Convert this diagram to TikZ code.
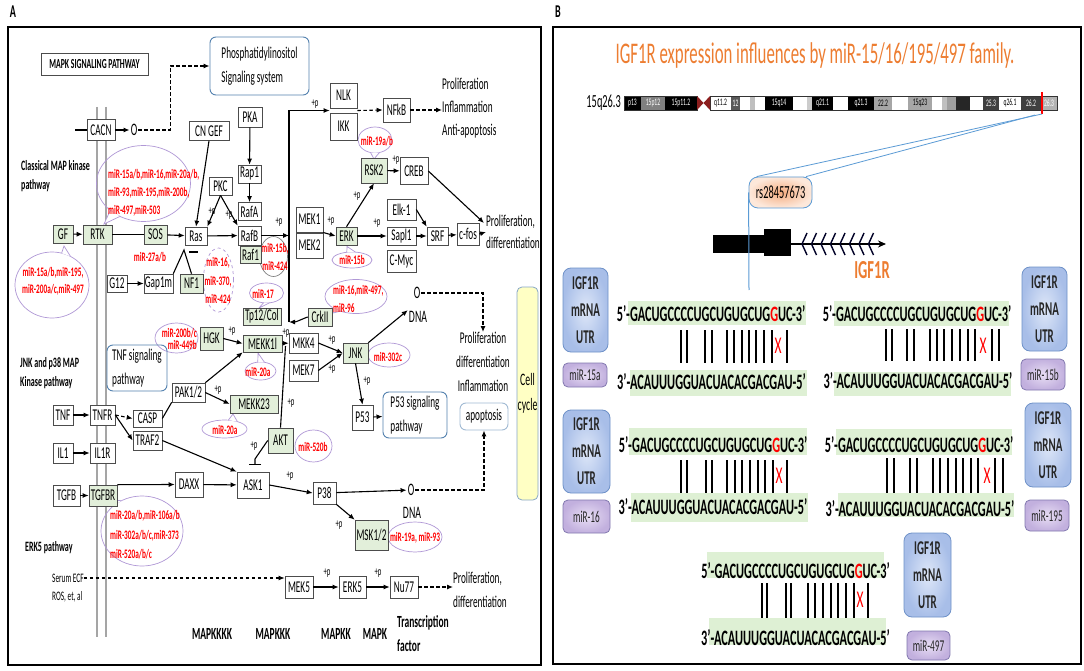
\documentclass[tikz,border=0pt]{standalone}
\usepackage{fontspec}
\setmainfont[FakeStretch=0.56]{Carlito}
\usetikzlibrary{arrows.meta,calc}

\definecolor{kgreen}{RGB}{226,239,218}
\definecolor{lilac}{RGB}{176,152,214}
\definecolor{sigblue}{RGB}{84,130,175}
\definecolor{korange}{RGB}{237,125,49}
\definecolor{hlgreen}{RGB}{222,240,212}
\definecolor{mred}{RGB}{255,0,0}
\definecolor{memgrey}{RGB}{165,165,165}
\definecolor{utrin}{RGB}{222,231,248}
\definecolor{utrout}{RGB}{168,190,232}
\definecolor{utrline}{RGB}{110,145,200}
\definecolor{mirin}{RGB}{232,222,244}
\definecolor{mirout}{RGB}{194,176,222}
\definecolor{mirline}{RGB}{130,120,175}
\definecolor{snpin}{RGB}{244,172,128}
\definecolor{snpout}{RGB}{253,232,218}
\definecolor{cellyel}{RGB}{255,255,196}
\definecolor{centro}{RGB}{140,30,30}
\definecolor{lineblue}{RGB}{91,155,213}

\newcommand\topseq{5’-GACUGCCCCUGCUGUGCUG{\color{mred}G}UC-3’}
\newcommand\botseq{3’-ACAUUUGGUACUACACGACGAU-5’}

\tikzset{
  kbox/.style={draw=black!70, fill=white, line width=0.6pt, inner sep=0pt, font=\fontsize{16.5}{18}\selectfont},
  gbox/.style={kbox, fill=kgreen},
  wh/.style 2 args={minimum width=#1pt, minimum height=#2pt},
  sigbox/.style={draw=sigblue, rounded corners=6pt, line width=0.9pt, inner sep=0pt, align=left, font=\fontsize{16.5}{24}\selectfont},
  mirtxt/.style={text=mred, font=\bfseries\fontsize{13}{18}\selectfont, inner sep=0pt, align=center},
  ring/.style={draw=lilac, line width=0.7pt},
  tail/.style={ring, fill=white},
  flow/.style={-{Latex[length=6pt,width=5pt]}, line width=1.1pt},
  dflow/.style={flow, dash pattern=on 3.5pt off 2.5pt},
  link/.style={line width=1.1pt},
  plus/.style={font=\fontsize{12}{12}\selectfont, inner sep=0pt},
  lab/.style={font=\bfseries\fontsize{14.3}{19}\selectfont, inner sep=0pt, align=left, anchor=west},
  bl/.style={font=\bfseries\fontsize{17}{24}\selectfont, inner sep=0pt, align=left},
  outtxt/.style={font=\fontsize{16.5}{23}\selectfont, inner sep=0pt, align=left},
  otxt/.style={font=\fontsize{17.5}{17.5}\selectfont, inner sep=1pt},
  band/.style={font=\fontsize{10}{10}\selectfont, inner sep=0pt},
  seq/.style={font=\bfseries\fontsize{22}{22}\selectfont, inner sep=0pt},
  bp/.style={line width=1.2pt},
  mis/.style={text=mred, font=\fontsize{24}{24}\selectfont, inner sep=0pt},
  utr/.style={draw=utrline, rounded corners=8pt, inner color=utrin, outer color=utrout, line width=0.8pt, inner sep=0pt, align=center, font=\bfseries\fontsize{19.5}{27}\selectfont, text=black!85},
  mirbox/.style={draw=mirline, rounded corners=5pt, inner color=mirin, outer color=mirout, line width=0.8pt, inner sep=0pt, font=\fontsize{16.5}{16.5}\selectfont, text=black!85},
}

\begin{document}
\begin{tikzpicture}[x=1pt,y=-1pt]
\useasboundingbox (0,0) rectangle (1084,671);
\fill[white] (0,0) rectangle (1084,671);

% ---------------- panel A ----------------
\node[font=\bfseries\fontsize{18}{18}\selectfont, inner sep=0pt] (pa) at (13,12) {A};
\draw[memgrey, line width=1.5pt] (97,107) -- (97,637) (106,107) -- (106,637);

\node[kbox, wh={107}{22}, font=\bfseries\fontsize{13.8}{14}\selectfont] (mapk) at (94.5,64) {MAPK SIGNALING PATHWAY};
\node[sigbox, wh={99}{58}] (phos) at (259.5,66) {Phosphatidylinositol\\Signaling system};
\node[lab] (cls) at (21,176) {Classical MAP kinase\\pathway};
\node[lab] (jnkl) at (20,373) {JNK and p38 MAP\\Kinase pathway};
\node[lab] (erk5l) at (25,548) {ERK5 pathway};

% miRNA rings
\draw[ring] (143.5,183.5) ellipse (47pt and 38pt);
\draw[ring] (52,285) ellipse (37pt and 33pt);
\draw[ring, dashed] (218.5,280) ellipse (15pt and 32pt);
\draw[draw=gray, line width=0.7pt] (273.5,256.5) ellipse (14pt and 20pt);
\draw[ring] (266.5,293) ellipse (17pt and 10pt);
\draw[ring] (375,140) ellipse (17pt and 13pt);
\draw[ring] (352,260) ellipse (20pt and 8pt);
\draw[ring] (356,296.5) ellipse (31pt and 17pt);
\draw[ring] (176.5,338) ellipse (21.5pt and 15pt);
\draw[ring] (260.5,371) ellipse (15.5pt and 9pt);
\draw[ring] (224.5,429) ellipse (22.5pt and 9pt);
\draw[ring] (389,355) ellipse (21pt and 12pt);
\draw[ring] (313.5,446) ellipse (18.5pt and 16pt);
\draw[ring] (142,531) ellipse (41pt and 35pt);
\draw[ring] (415,537) ellipse (27pt and 15pt);
% callout tails
\filldraw[tail] (120,216.4) -- (104,224) -- (110.3,210.4);
\filldraw[tail] (61.6,253.1) -- (64,246) -- (70.5,256.4);
\filldraw[tail] (379.4,152.6) -- (374,159) -- (370.6,152.6);
\filldraw[tail] (346.8,252.3) -- (347,246.5) -- (355.5,252.1);
\filldraw[tail] (263.5,302.8) -- (259,308) -- (269.5,302.8);
\filldraw[tail] (332.3,307.4) -- (333,313) -- (340.5,311.2);
\filldraw[tail] (257.8,362.1) -- (258,353) -- (264.5,362.3);
\filldraw[tail] (228.4,420.1) -- (233,414) -- (237.4,421.6);
\filldraw[tail] (121.5,500.7) -- (112,500) -- (113,506.3);

\node[mirtxt, anchor=west, align=left] (m1) at (108,193) {miR-15a/b,miR-16,miR-20a/b,\\miR-93,miR-195,miR-200b,\\miR-497,miR-503};
\node[mirtxt, font=\bfseries\fontsize{13}{17}\selectfont] (m2) at (53,281) {miR-15a/b,miR-195,\\miR-200a/c,miR-497};
\node[mirtxt, font=\bfseries\fontsize{13}{18.5}\selectfont] (m3) at (218,280.5) {miR-16,\\miR-370,\\miR-424};
\node[mirtxt] (m4) at (275,257) {miR-15b,\\miR-424};
\node[mirtxt] (m5) at (263,294) {miR-17};
\node[mirtxt] (m6) at (377,141) {miR-19a/b};
\node[mirtxt] (m7) at (352,260) {miR-15b};
\node[mirtxt, anchor=west, align=left] (m8) at (333,299) {miR-16,miR-497,\\miR-96};
\node[mirtxt, anchor=east, align=right, font=\bfseries\fontsize{13}{12}\selectfont] (m9) at (197,339) {miR-200b/c\\miR-449b};
\node[mirtxt] (m10) at (258,372) {miR-20a};
\node[mirtxt] (m11) at (225,430) {miR-20a};
\node[mirtxt] (m12) at (388,357) {miR-302c};
\node[mirtxt] (m13) at (313,447) {miR-520b};
\node[mirtxt, anchor=west, align=left, font=\bfseries\fontsize{13}{19.5}\selectfont] (m14) at (110,535) {miR-20a/b,miR-106a/b\\miR-302a/b/c,miR-373\\miR-520a/b/c};
\node[mirtxt] (m15) at (415,538) {miR-19a, miR-93};
\node[mirtxt] (m16) at (150,257) {miR-27a/b};

% kinase boxes
\node[kbox, wh={28}{21}] (cacn) at (101,130) {CACN};
\node[kbox, wh={40}{19}] (cngef) at (209,131) {CN GEF};
\node[kbox, wh={24}{20}] (pka) at (250,117) {PKA};
\node[kbox, wh={23}{18}] (rap1) at (249.5,174) {Rap1};
\node[kbox, wh={23}{18}] (pkc) at (220.5,186) {PKC};
\node[kbox, wh={23}{18}] (rafa) at (249.5,211.5) {RafA};
\node[kbox, wh={23}{19}] (rafb) at (249.5,235.5) {RafB};
\node[gbox, wh={21}{17}] (raf1) at (250.5,254.5) {Raf1};
\node[gbox, wh={20}{18}] (gf) at (63,234) {GF};
\node[gbox, wh={29}{19}] (rtk) at (97.5,234.5) {RTK};
\node[gbox, wh={23}{19}] (sos) at (155.5,234.5) {SOS};
\node[kbox, wh={22}{18}] (ras) at (196,236) {Ras};
\node[kbox, wh={20}{17}] (g12) at (117,283.5) {G12};
\node[kbox, wh={29}{19}] (gap1m) at (158.5,283.5) {Gap1m};
\node[gbox, wh={23}{19}] (nf1) at (191.5,283.5) {NF1};
\node[kbox, wh={27}{25}] (nlk) at (343.5,95.5) {NLK};
\node[kbox, wh={27}{27}] (ikk) at (343.5,126.5) {IKK};
\node[kbox, wh={27}{24}] (nfkb) at (396.5,110) {NFkB};
\node[gbox, wh={26}{25}] (rsk2) at (374,170.5) {RSK2};
\node[kbox, wh={28}{27}] (creb) at (414,171) {CREB};
\node[kbox, wh={27}{25}] (mek1) at (309.5,219.5) {MEK1};
\node[kbox, wh={27}{25}] (mek2) at (309.5,245.5) {MEK2};
\node[gbox, wh={21}{18}] (erk) at (346.5,236) {ERK};
\node[kbox, wh={29}{21}] (elk1) at (401.5,209.5) {Elk-1};
\node[kbox, wh={29}{18}] (sapl1) at (401.5,236) {Sapl1};
\node[kbox, wh={29}{22}] (cmyc) at (401.5,261) {C-Myc};
\node[kbox, wh={21}{18}] (srf) at (437.5,236) {SRF};
\node[kbox, wh={22}{22}] (cfos) at (468,234) {c-fos};
\node[gbox, wh={38}{17}] (tp12) at (262,316.5) {Tp12/Col};
\node[gbox, wh={39}{17}] (mekk1) at (262.5,343.5) {MEKK1l};
\node[gbox, wh={23}{23}] (hgk) at (211.5,338.5) {HGK};
\node[gbox, wh={24}{18}] (crk) at (320,317) {CrkII};
\node[kbox, wh={29}{20}] (mkk4) at (303.5,343) {MKK4};
\node[kbox, wh={29}{21}] (mek7) at (303.5,370.5) {MEK7};
\node[gbox, wh={25}{20}] (jnk) at (355.5,353) {JNK};
\node[kbox, wh={21}{25}] (p53) at (362.5,417.5) {P53};
\node[kbox, wh={33}{19}] (pak) at (188.5,392.5) {PAK1/2};
\node[gbox, wh={48}{18}] (mekk23) at (254,404) {MEKK23};
\node[gbox, wh={25}{25}] (akt) at (280.5,440.5) {AKT};
\node[kbox, wh={20}{20}] (tnf) at (63,415) {TNF};
\node[kbox, wh={25}{20}] (tnfr) at (102.5,415) {TNFR};
\node[kbox, wh={29}{17}] (casp) at (147.5,418.5) {CASP};
\node[kbox, wh={29}{19}] (traf2) at (147.5,440.5) {TRAF2};
\node[kbox, wh={20}{20}] (il1) at (63,453) {IL1};
\node[kbox, wh={25}{20}] (il1r) at (102.5,453) {IL1R};
\node[kbox, wh={27}{21}] (tgfb) at (66.5,495.5) {TGFB};
\node[gbox, wh={28}{21}] (tgfbr) at (103,495.5) {TGFBR};
\node[kbox, wh={28}{25}] (daxx) at (189,484.5) {DAXX};
\node[kbox, wh={32}{26}] (ask1) at (253,485) {ASK1};
\node[kbox, wh={23}{22}] (p38) at (324.5,493) {P38};
\node[gbox, wh={33}{30}] (msk) at (371.5,535) {MSK1/2};
\node[kbox, wh={28}{22}] (mek5) at (299,587) {MEK5};
\node[kbox, wh={27}{22}] (erk5) at (352.5,587) {ERK5};
\node[kbox, wh={28}{22}] (nu77) at (404,587) {Nu77};

\node[sigbox, wh={64}{46}] (p53sig) at (415,415) {P53 signaling\\pathway};
\node[sigbox, wh={60}{46}] (tnfsig) at (137,368) {TNF signaling\\pathway};
\node[sigbox, draw=sigblue!55, wh={48}{27}, align=center] (apop) at (484,416.5) {apoptosis};
\node[draw=sigblue!70, fill=cellyel, rounded corners=5pt, line width=0.8pt, wh={21}{213}, inner sep=0pt, align=center, font=\fontsize{17.5}{25}\selectfont] (cell) at (527.5,393.5) {Cell\\cycle};

\node[otxt] (o1) at (134,130) {O};
\node[otxt] (o2) at (417,293) {O};
\node[otxt] (dna1) at (418,317) {DNA};
\node[otxt] (o3) at (411,490) {O};
\node[otxt] (dna2) at (412,513) {DNA};

\node[outtxt, anchor=west] (out1) at (442,108) {Proliferation\\Inflammation\\Anti-apoptosis};
\node[outtxt, anchor=west, font=\fontsize{16.5}{22}\selectfont] (out2) at (486,232) {Proliferation,\\differentiation};
\node[outtxt, align=center, font=\fontsize{16.5}{24}\selectfont] (out3) at (483,362) {Proliferation\\differentiation\\Inflammation};
\node[outtxt, anchor=west, font=\fontsize{16.5}{24}\selectfont] (out4) at (453,590) {Proliferation,\\differentiation};

\node[font=\fontsize{13}{13}\selectfont, anchor=west, inner sep=0pt] (serum) at (52,578) {Serum ECF};
\node[font=\fontsize{13}{13}\selectfont, anchor=west, inner sep=0pt] (ros) at (52,597) {ROS, et, al};

\node[bl] (k4) at (212,634) {MAPKKKK};
\node[bl] (k3) at (273,634) {MAPKKK};
\node[bl] (k2) at (336,634) {MAPKK};
\node[bl] (k1) at (375,634) {MAPK};
\node[bl, anchor=west] (tf) at (397,634) {Transcription\\factor};

% connectors
\coordinate (cacnin) at (75,130);
\draw[link] (cacnin) -- (cacn);
\draw[flow] (cacn) -- (o1);
\draw[dflow] (o1.east) -- ++(32,0) |- (phos.west);
\draw[flow] (pka) -- (rap1);
\draw[flow] (rap1) -- (rafa);
\draw[flow] (cngef.south) -- (ras.north);
\draw[flow] (pkc.south) -- (ras.north east);
\draw[flow] (pkc.south) -- (rafb.north west);
\node[plus] (pp1) at (212,212) {+p};
\node[plus] (pp2) at (229,215) {+p};
\draw[flow] (gf) -- (rtk);
\draw[link] (rtk) -- (sos);
\draw[flow] (sos) -- (ras);
\draw[flow] (ras) -- (rafb);
\draw[flow] (g12) -- (gap1m);
\coordinate (rasinh) at (184,250);
\draw[link] (gap1m.north east) -- (rasinh) -- (nf1.north);
\draw[link] (189,252) -- (198,252);

\coordinate (vtop) at (289,112);
\coordinate (vbot) at (289,322);
\coordinate (kin) at ($(nlk.south west)!0.5!(ikk.north west)$);
\coordinate (kout) at ($(nlk.south east)!0.5!(ikk.north east)$);
\draw[flow] (rafb) -- (rafb -| vtop);
\node[plus] (pp3) at (279,222) {+p};
\draw[flow] (vbot) |- (kin);
\node[plus] (pp4) at (315,104) {+p};
\draw[flow] (crk.west) to[out=200,in=0] (vbot);
\draw[dflow] (kout) -- (nfkb.west);
\draw[dflow] (nfkb.east) -- (out1.west |- nfkb.east);
\draw[flow] (rsk2) -- (creb);
\node[plus] (pp5) at (396,160) {+p};
\coordinate (out2in) at (484,223);
\draw[flow] (creb.east) -- (out2in);
\draw[flow] ($(mek1.south east)!0.5!(mek2.north east)$) -- (erk.west);
\node[plus] (pp6) at (331,221) {+p};
\draw[flow] (erk.north) -- (rsk2.south);
\node[plus] (pp7) at (357,196) {+p};
\draw[flow] (erk) -- (sapl1);
\node[plus] (pp8) at (377,223) {+p};
\draw[flow] (elk1.east) -- (srf.north west);
\draw[flow] (sapl1) -- (srf);
\draw[flow] (srf) -- (cfos);
\draw[dflow] (cfos.east) -- (out2.west);

\draw[flow] (hgk.east) -- (mekk1.west);
\node[plus] (pp9) at (232,331) {+p};
\draw[flow] (mekk1) -- (mkk4);
\node[plus] (pp10) at (286,333) {+p};
\draw[flow] (mkk4.east) -- (jnk.west);
\node[plus] (pp11) at (332,340) {+p};
\draw[flow] (mek7.east) -- (jnk.west);
\node[plus] (pp12) at (332,369) {+p};
\draw[flow] (jnk.north east) -- (dna1.north west);
\draw[dflow] (o2.east) -- (o2.east -| out3.north) -- (out3.north);
\draw[flow] (jnk.south) -- (p53.north);
\node[plus] (pp13) at (367,381) {+p};
\draw[dflow] (p53) -- (p53sig);
\draw[flow] (pak.north east) -- (mekk1.south west);
\draw[flow] (pak.east) -- (mekk23.west);
\node[plus] (pp14) at (218,390) {+p};
\coordinate (aktup) at (285.5,346);
\draw[link] (akt.north) -- (aktup);
\node[plus] (pp15) at (291,403) {+p};
\coordinate (aktbar) at (255,465);
\draw[link, -{Bar[width=12pt]}] (akt.west) -- (255,459) -- (aktbar);
\node[plus] (pp16) at (254,446) {+p};

\draw[flow] (tnf) -- (tnfr);
\draw[dflow] (tnfr.east) -- (casp.west);
\draw[flow] (tnfr.east) -- (traf2.west);
\draw[link] (casp.east) -- (pak.south west);
\draw[flow] (traf2.east) -- (ask1.north west);
\draw[flow] (il1) -- (il1r);
\draw[flow] (tgfb) -- (tgfbr);
\draw[flow] (tgfbr.north east) -- (daxx.west);
\draw[flow] (daxx) -- (ask1);
\draw[flow] (ask1.east) -- (p38.west);
\node[plus] (pp17) at (290,476) {+p};
\draw[flow] (p38) -- (o3);
\draw[dflow] (o3.east) -- (o3.east -| apop.south) -- (apop.south);
\draw[flow] (p38.south east) -- (msk.north west);
\node[plus] (pp18) at (339,525) {+p};

\draw[dflow] (serum.east) -- (serum.east -| mek5.west);
\draw[flow] (mek5) -- (erk5);
\node[plus] (pp19) at (327,573) {+p};
\draw[flow] (erk5) -- (nu77);
\node[plus] (pp20) at (378,573) {+p};
\draw[dflow] (nu77.east) -- (out4.west |- nu77.east);

\draw[line width=1.8pt] (8,27) rectangle (541,665);

% ---------------- panel B ----------------
\node[font=\bfseries\fontsize{18}{18}\selectfont, inner sep=0pt] (pb) at (558,12) {B};
\node[text=korange, font=\fontsize{30}{30}\selectfont, inner sep=0pt] (title) at (815,56) {IGF1R expression influences by miR-15/16/195/497 family.};

% ideogram
\node[font=\fontsize{18.5}{18.5}\selectfont, anchor=east, inner sep=0pt] (chr) at (621,103) {15q26.3};
\foreach \a/\b/\c in {740/750/white, 750/755/gray!50, 755/765/white, 793/807/white, 807/812/gray!40, 833/848/white, 892/908/white, 932/942/white, 942/947/gray!50, 947/956/gray!75, 956/970/black!85, 970/983/white}
  \fill[\c] (\a,96) rectangle (\b,110);
\foreach \a/\b/\c/\t/\k in {624/641/black/p13/white, 641/665/gray/15p12/white, 665/697/black/15p11.2/white, 710/731/white/q11.2/black, 731/740/black!65/12/white, 765/793/black/15q14/white, 812/833/black/q21.1/white, 848/874/black/q21.3/white, 874/892/gray!70/22.2/black, 908/932/gray!70/15q23/black, 983/999/black!75/25.3/white, 999/1021/white/q26.1/black, 1021/1041/black!75/26.2/white, 1041/1057/gray!60/26.3/white}{
  \fill[\c] (\a,96) rectangle (\b,110);
  \node[band, text=\k] (bd\a) at ({(\a+\b)/2},103) {\t};
}
\draw[black!80, line width=0.6pt] (624,96) rectangle (697,110) (710,96) rectangle (1057,110);
\fill[centro] (697,96) -- (703.5,103) -- (697,110) -- cycle;
\fill[centro] (710,96) -- (703.5,103) -- (710,110) -- cycle;
\coordinate (loc) at (1042,114);
\draw[red, line width=2pt] (1042,92) -- (loc);

\node[draw=lineblue, rounded corners=9pt, inner color=snpin, outer color=snpout, line width=0.8pt, inner sep=0pt, wh={63}{31}, font=\fontsize{18.5}{18.5}\selectfont] (snp) at (780.5,192.5) {rs28457673};
\draw[lineblue, line width=0.8pt] (loc) -- ($(snp.north)!0.75!(snp.north west)$);
\draw[lineblue, line width=0.8pt] ($(loc)+(-7,1)$) -- ($(snp.north)!0.8!(snp.north east)$);

% gene model
\fill (713,235) rectangle (764,253);
\fill (764,229) rectangle (791,256);
\draw[-{Stealth[length=8pt,width=7pt]}, line width=1.3pt] (791,244) -- (886,244);
\foreach \c in {802,811.5,821,830.5,840,849.5,859,868.5}
  \draw[line width=1.4pt, black!85!blue] ({\c+5},233) -- (\c,244) -- ({\c+5},255);
\coordinate (snpdown) at (749,290);
\draw[lineblue, line width=1pt] (snp.west) -- (snpdown);
\node[text=korange, font=\bfseries\fontsize{26}{26}\selectfont, inner sep=0pt] (gene) at (872,270) {IGF1R};

% block miR-15a
\fill[hlgreen] (628,301) rectangle (806,325);
\fill[hlgreen] (630,370) rectangle (807,396);
\node[seq] (s1t) at (711,314) {\topseq};
\node[seq] (s1b) at (711.5,382) {\botseq};
\foreach \x in {681,687,705,712,727,734,742,749,756,764,772,787}
  \draw[bp] (\x,330) -- (\x,363);
\node[mis] (x1) at (778,346) {X};
\node[utr, wh={45}{84}] (u1) at (585.5,310) {IGF1R\\mRNA\\UTR};
\node[mirbox, wh={44}{24}] (r1) at (585,375) {miR-15a};

% block miR-15b
\fill[hlgreen] (834,301) rectangle (1009,326);
\fill[hlgreen] (834,372) rectangle (1011,396);
\node[seq] (s2t) at (917,314) {\topseq};
\node[seq] (s2b) at (918,381) {\botseq};
\foreach \x in {886,892,907,914,930,937,944,952,960,968,975,992,999}
  \draw[bp] (\x,329) -- (\x,361);
\node[mis] (x2) at (983,346) {X};
\node[utr, wh={45}{84}] (u2) at (1044.5,309) {IGF1R\\mRNA\\UTR};
\node[mirbox, wh={44}{31}] (r2) at (1043,374.5) {miR-15b};

% block miR-16
\fill[hlgreen] (629,428) rectangle (807,455);
\fill[hlgreen] (631,493) rectangle (808,522);
\node[seq] (s3t) at (713,445) {\topseq};
\node[seq] (s3b) at (713,507) {\botseq};
\foreach \x in {681,687,706,712,727,735,742,750,758,765,773,787}
  \draw[bp] (\x,460) -- (\x,493);
\node[mis] (x3) at (779,476) {X};
\node[utr, wh={47}{83}] (u3) at (586.5,451.5) {IGF1R\\mRNA\\UTR};
\node[mirbox, wh={47}{33}] (r3) at (586.5,516.5) {miR-16};

% block miR-195
\fill[hlgreen] (836,429) rectangle (1012,455);
\fill[hlgreen] (838,493) rectangle (1014,517);
\node[seq] (s4t) at (919,445) {\topseq};
\node[seq] (s4b) at (920,509) {\botseq};
\foreach \x in {887,894,910,917,933,940,948,956,963,971,978,995,1003}
  \draw[bp] (\x,458) -- (\x,493);
\node[mis] (x4) at (987,476) {X};
\node[utr, wh={46}{84}] (u4) at (1048,445) {IGF1R\\mRNA\\UTR};
\node[mirbox, wh={44}{31}] (r4) at (1047,515.5) {miR-195};

% block miR-497
\fill[hlgreen] (707,552) rectangle (884,578);
\fill[hlgreen] (709,618) rectangle (886,645);
\node[seq] (s5t) at (795.5,571) {\topseq};
\node[seq] (s5b) at (795.5,638) {\botseq};
\foreach \x in {762,767,786,791,808,815,823,831,838,846,854,868}
  \draw[bp] (\x,583) -- (\x,618);
\node[mis] (x5) at (860,600) {X};
\node[utr, wh={47}{84}] (u5) at (927.5,575) {IGF1R\\mRNA\\UTR};
\node[mirbox, wh={43}{29}] (r5) at (928.5,645.5) {miR-497};

\draw[line width=1.8pt] (553,27) rectangle (1081,664);
\end{tikzpicture}
\end{document}
